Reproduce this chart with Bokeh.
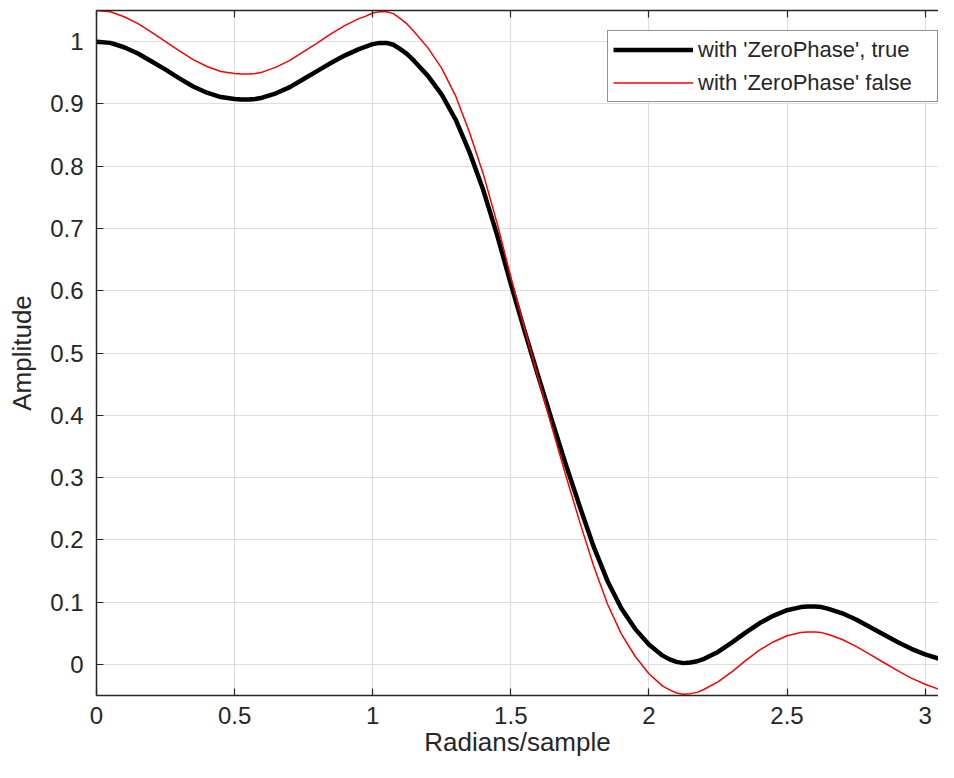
from bokeh.plotting import figure
from bokeh.models import Range1d, LinearAxis, FixedTicker, Legend, LegendItem
from bokeh.embed import file_html
from bokeh.resources import INLINE

# ---- data ----
freq = [0, 0.05, 0.1, 0.15, 0.2, 0.25, 0.3, 0.35, 0.4, 0.45,
        0.5, 0.525, 0.55, 0.575, 0.6, 0.65, 0.7, 0.75, 0.8, 0.85,
        0.9, 0.95, 0.975, 1.0, 1.025, 1.05, 1.075, 1.1, 1.125, 1.15,
        1.2, 1.25, 1.3, 1.35, 1.4, 1.45, 1.5, 1.55, 1.6, 1.65,
        1.7, 1.75, 1.8, 1.85, 1.9, 1.95, 2.0, 2.05, 2.075, 2.1,
        2.125, 2.15, 2.175, 2.2, 2.25, 2.3, 2.35, 2.4, 2.45, 2.5,
        2.55, 2.575, 2.6, 2.625, 2.65, 2.7, 2.75, 2.8, 2.85, 2.9,
        2.95, 3.0, 3.05, 3.1, 3.1416]

amp_zero_phase = [1.000, 0.998, 0.991, 0.981, 0.968, 0.955, 0.941, 0.928, 0.918, 0.911,
                  0.908, 0.907, 0.907, 0.908, 0.910, 0.917, 0.927, 0.940, 0.953, 0.966,
                  0.978, 0.988, 0.992, 0.996, 0.998, 0.998, 0.995, 0.988, 0.980, 0.969,
                  0.945, 0.915, 0.875, 0.823, 0.762, 0.690, 0.611, 0.535, 0.462, 0.390,
                  0.320, 0.253, 0.189, 0.134, 0.090, 0.057, 0.032, 0.014, 0.008, 0.004,
                  0.002, 0.003, 0.005, 0.009, 0.020, 0.035, 0.051, 0.066, 0.078, 0.087,
                  0.092, 0.093, 0.093, 0.092, 0.089, 0.082, 0.072, 0.060, 0.048, 0.036,
                  0.025, 0.016, 0.009, 0.004, 0.003]

amp_no_zero_phase = [1.050, 1.048, 1.040, 1.029, 1.015, 1.000, 0.985, 0.971, 0.960, 0.952,
                     0.949, 0.948, 0.948, 0.949, 0.951, 0.959, 0.970, 0.984, 0.998, 1.013,
                     1.026, 1.037, 1.041, 1.046, 1.048, 1.048, 1.045, 1.037, 1.028, 1.016,
                     0.990, 0.957, 0.913, 0.855, 0.788, 0.709, 0.622, 0.539, 0.458, 0.379,
                     0.302, 0.228, 0.158, 0.097, 0.049, 0.013, -0.015, -0.035, -0.041, -0.046,
                     -0.048, -0.047, -0.045, -0.040, -0.028, -0.012, 0.006, 0.023, 0.036, 0.046,
                     0.051, 0.052, 0.052, 0.051, 0.048, 0.040, 0.029, 0.016, 0.003, -0.010,
                     -0.022, -0.032, -0.040, -0.046, -0.047]

series_labels = ["with 'ZeroPhase', true", "with 'ZeroPhase' false"]

x_ticks = [0, 0.5, 1, 1.5, 2, 2.5, 3]
x_tick_labels = ["0", "0.5", "1", "1.5", "2", "2.5", "3"]
y_ticks = [0, 0.1, 0.2, 0.3, 0.4, 0.5, 0.6, 0.7, 0.8, 0.9, 1]
y_tick_labels = ["0", "0.1", "0.2", "0.3", "0.4", "0.5", "0.6", "0.7", "0.8", "0.9", "1"]

# ---- styling ----
FONT = "Liberation Sans"
AX = "#262626"
GRID = "#dedede"

p = figure(width=938, height=762, output_backend="svg", toolbar_location=None,
           x_range=Range1d(0, 3.0485), y_range=Range1d(-0.05, 1.05),
           min_border_left=96, min_border_right=0, min_border_top=10, min_border_bottom=67,
           x_axis_label="Radians/sample", y_axis_label="Amplitude")
p.outline_line_color = None
p.background_fill_color = "white"
p.border_fill_color = "white"

p.xaxis.ticker = FixedTicker(ticks=x_ticks)
p.yaxis.ticker = FixedTicker(ticks=y_ticks)
p.xaxis.major_label_overrides = dict(zip(x_ticks, x_tick_labels))
p.yaxis.major_label_overrides = dict(zip(y_ticks, y_tick_labels))

for ax in (p.xaxis[0], p.yaxis[0]):
    ax.axis_line_color = AX
    ax.axis_line_width = 1.5
    ax.major_tick_line_color = AX
    ax.major_tick_line_width = 1.2
    ax.major_tick_in = 7
    ax.major_tick_out = 0
    ax.minor_tick_line_color = None
    ax.major_label_text_font = FONT
    ax.major_label_text_font_size = "24px"
    ax.major_label_text_color = AX
    ax.axis_label_text_font = FONT
    ax.axis_label_text_font_size = "26px"
    ax.axis_label_text_font_style = "normal"
    ax.axis_label_text_color = AX

p.xaxis[0].major_label_standoff = 11
p.xaxis[0].axis_label_standoff = 0
p.yaxis[0].major_label_standoff = 13
p.yaxis[0].axis_label_standoff = 10

# top box edge with inward ticks and no labels
top = LinearAxis(ticker=FixedTicker(ticks=x_ticks), axis_line_color=AX, axis_line_width=1.5,
                 major_tick_line_color=AX, major_tick_line_width=1.2, major_tick_in=7,
                 major_tick_out=0, minor_tick_line_color=None,
                 major_label_overrides={t: "" for t in x_ticks},
                 major_label_text_font_size="1px", major_label_standoff=0)
p.add_layout(top, "above")

p.xgrid.grid_line_color = GRID
p.ygrid.grid_line_color = GRID
p.xgrid.grid_line_width = 1.2
p.ygrid.grid_line_width = 1.2

r1 = p.line(freq, amp_zero_phase, line_color="black", line_width=4.5, line_join="round")
r2 = p.line(freq, amp_no_zero_phase, line_color="#ff0000", line_width=1.5, line_join="round")

legend = Legend(items=[LegendItem(label=series_labels[0], renderers=[r1]),
                       LegendItem(label=series_labels[1], renderers=[r2])],
                location=(511, 593), padding=5, spacing=6, margin=0,
                glyph_width=80, glyph_height=27, label_height=27, label_width=234,
                label_standoff=5, label_text_font=FONT, label_text_font_size="22px",
                label_text_color=AX, border_line_color=AX, border_line_width=1.2,
                background_fill_color="white", background_fill_alpha=1.0)
p.add_layout(legend)

open("out.html", "w").write(file_html(p, INLINE))
